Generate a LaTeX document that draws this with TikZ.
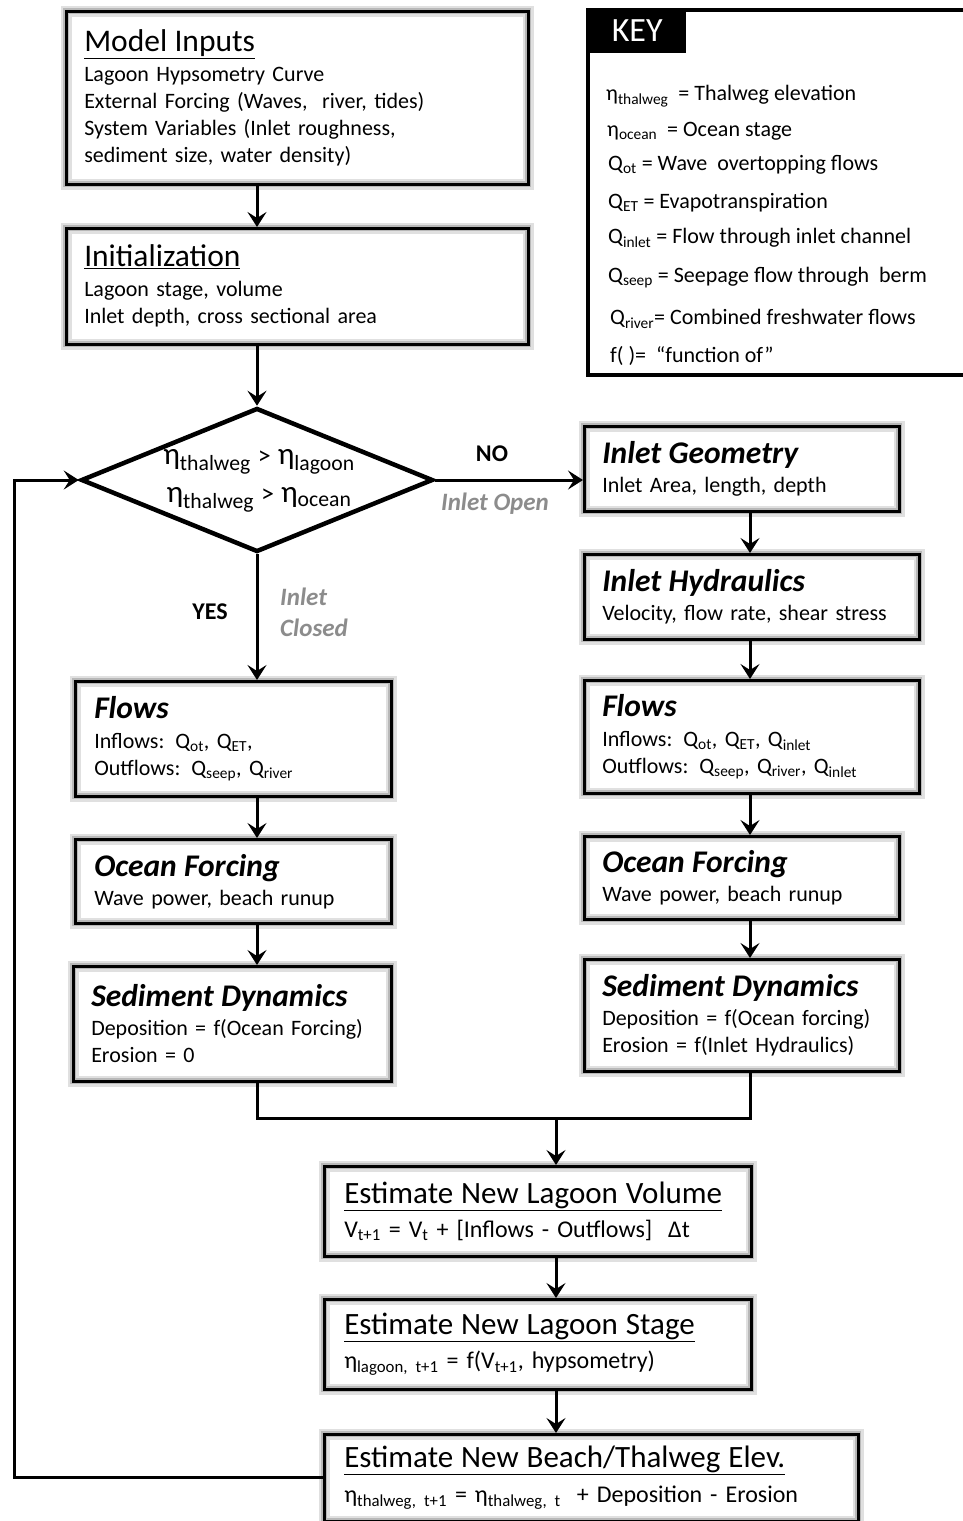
\documentclass[tikz,border=0pt]{standalone}
\usepackage{fontspec}
\setmainfont{Carlito}
\usetikzlibrary{arrows.meta,shapes.geometric}
\newcommand{\sbs}[1]{\textsubscript{#1}}
\newcommand{\titlef}{\fontsize{31.5}{31.5}\selectfont}
\newcommand{\bititle}{\fontsize{31.5}{31.5}\selectfont\bfseries\itshape}
\newcommand{\esttitle}{\fontsize{31}{31}\selectfont}
\definecolor{lblgray}{RGB}{140,140,140}
\begin{document}
\begin{tikzpicture}[x=1pt,y=-1pt,
  box/.style={anchor=north west, align=left, inner xsep=18pt, inner ysep=0pt,
    preaction={fill=white},
    preaction={draw=black!12, line width=11pt},
    preaction={draw=black!28, line width=6pt},
    draw=black, line width=2.5pt, font=\fontsize{22}{27}\selectfont},
  estbox/.style={box, font=\fontsize{24}{30}\selectfont, inner xsep=20pt},
  arr/.style={draw=black, line width=3pt, -{Stealth[length=15pt,width=19pt,inset=6pt]}},
  line/.style={draw=black, line width=3pt},
  keytxt/.style={anchor=west, inner sep=0pt, font=\fontsize{22}{24}\selectfont},
  lbl/.style={font=\fontsize{24}{24}\selectfont\bfseries},
  glbl/.style={font=\fontsize{25}{31}\selectfont\bfseries\itshape, text=lblgray, align=left}
]
\useasboundingbox (0,0) rectangle (962,1521);

% column coordinates
\coordinate (lc) at (257,0);
\coordinate (rc) at (750,0);
\coordinate (mc) at (556,0);
\coordinate (lp) at (14,0);

% top boxes
\node[box, text width=426pt, minimum height=173pt] (mi) at (65,10)
 {{\titlef\underline{Model Inputs}}\\[3pt]
  Lagoon Hypsometry Curve\\
  External Forcing (Waves,~ river, tides)\\
  System Variables (Inlet roughness,\\
  sediment size, water density)};

\node[box, text width=426pt, minimum height=116pt] (init) at (65,227)
 {{\titlef\underline{Initialization}}\\[3pt]
  Lagoon stage, volume\\
  Inlet depth, cross sectional area};

% decision
\node[draw, diamond, line width=4.5pt, minimum width=352pt, minimum height=144pt,
      inner sep=0pt, fill=white] (dec) at (257,480) {};
\node[align=center, inner sep=0pt, font=\fontsize{31}{38}\selectfont] (dect) at (259,481)
 {η\sbs{thalweg} {\fontsize{26}{26}\selectfont>} η\sbs{lagoon}\\
  η\sbs{thalweg} {\fontsize{26}{26}\selectfont>} η\sbs{ocean}};

% right column
\node[box, text width=279pt, minimum height=85pt] (geo) at (583,425)
 {{\bititle Inlet Geometry}\\[2pt]
  Inlet Area, length, depth};
\node[box, text width=299pt, minimum height=85pt] (hyd) at (583,553)
 {{\bititle Inlet Hydraulics}\\[2pt]
  Velocity, flow rate, shear stress};
\node[box, text width=299pt, minimum height=113pt] (rfl) at (583,679)
 {{\bititle Flows}\\[3pt]
  Inflows: Q\sbs{ot}, Q\sbs{ET}, Q\sbs{inlet}\\
  Outflows: Q\sbs{seep}, Q\sbs{river}, Q\sbs{inlet}};
\node[box, text width=279pt, minimum height=83pt] (roc) at (583,835)
 {{\bititle Ocean Forcing}\\[2pt]
  Wave power, beach runup};
\node[box, text width=279pt, minimum height=112pt] (rsed) at (583,958)
 {{\bititle Sediment Dynamics}\\[2pt]
  Deposition = f(Ocean forcing)\\
  Erosion = f(Inlet Hydraulics)};

% left column
\node[box, text width=278pt, inner xsep=19pt, minimum height=115pt] (lfl) at (74,680)
 {{\bititle Flows}\\[3pt]
  Inflows: Q\sbs{ot}, Q\sbs{ET},\\
  Outflows: Q\sbs{seep}, Q\sbs{river}};
\node[box, text width=278pt, inner xsep=19pt, minimum height=84pt] (loc) at (74,838)
 {{\bititle Ocean Forcing}\\[2pt]
  Wave power, beach runup};
\node[box, text width=282pt, minimum height=115pt] (lsed) at (72,965)
 {{\bititle Sediment Dynamics}\\[2pt]
  Deposition = f(Ocean Forcing)\\
  Erosion = 0};

% bottom boxes
\node[estbox, text width=387pt, minimum height=90pt] (vol) at (323,1165)
 {{\esttitle\underline{Estimate New Lagoon Volume}}\\[4pt]
  V\sbs{t+1} = V\sbs{t} + [Inflows - Outflows]~ Δt};
\node[estbox, text width=387pt, minimum height=90pt] (stage) at (323,1298)
 {{\esttitle\underline{Estimate New Lagoon Stage}}\\[4pt]
  η\sbs{lagoon, t+1} = f(V\sbs{t+1}, hypsometry)};
\node[estbox, text width=494pt, minimum height=87pt] (beach) at (323,1433)
 {{\esttitle\underline{Estimate New Beach/Thalweg Elev.}}\\[5pt]
  η\sbs{thalweg, t+1} = η\sbs{thalweg, t}~ + Deposition - Erosion};

% key
\draw[line width=4.5pt] (588,10) rectangle (975,375);
\node[fill=black, anchor=north west, minimum width=98pt, minimum height=45pt, inner sep=0pt] (keytab) at (588,8) {};
\node[text=white, font=\fontsize{34}{34}\selectfont, inner sep=0pt] (keyt) at (keytab.center) {KEY};
\node[keytxt] (k1) at (606,96) {η\sbs{thalweg}~ = Thalweg elevation};
\node[keytxt] (k2) at (607,131) {η\sbs{ocean}~ = Ocean stage};
\node[keytxt] (k3) at (608,165) {Q\sbs{ot} = Wave~ overtopping flows};
\node[keytxt] (k4) at (608,203) {Q\sbs{ET} = Evapotranspiration};
\node[keytxt] (k5) at (608,238) {Q\sbs{inlet} = Flow through inlet channel};
\node[keytxt] (k6) at (608,278) {Q\sbs{seep} = Seepage flow through~ berm};
\node[keytxt] (k7) at (610,319) {Q\sbs{river}= Combined freshwater flows};
\node[keytxt] (k8) at (610,356) {f( )=~ “function of”};

% labels
\node[lbl] (no) at (492,454) {NO};
\node[glbl] (iopen) at (495,504) {Inlet Open};
\node[lbl] (yes) at (210,612) {YES};
\node[glbl, anchor=west, inner sep=0pt] (iclosed) at (280,612) {Inlet\\Closed};

% connectors
\draw[arr] (mi.south -| lc) -- (init.north -| lc);
\draw[arr] (init.south -| lc) -- (dec.north);
\draw[arr] (dec.east) -- (dec.east -| geo.west);
\draw[arr] (dec.south) -- (lfl.north -| lc);
\draw[arr] (lfl.south -| lc) -- (loc.north -| lc);
\draw[arr] (loc.south -| lc) -- (lsed.north -| lc);
\draw[arr] (geo.south -| rc) -- (hyd.north -| rc);
\draw[arr] (hyd.south -| rc) -- (rfl.north -| rc);
\draw[arr] (rfl.south -| rc) -- (roc.north -| rc);
\draw[arr] (roc.south -| rc) -- (rsed.north -| rc);
\coordinate (mj) at (556,1118);
\draw[line] (lsed.south -| lc) |- (mj) -| (rsed.south -| rc);
\draw[arr] (mj) -- (vol.north -| mc);
\draw[arr] (vol.south -| mc) -- (stage.north -| mc);
\draw[arr] (stage.south -| mc) -- (beach.north -| mc);
\draw[arr] (beach.west) -- (beach.west -| lp) |- (dec.west);
\end{tikzpicture}
\end{document}
